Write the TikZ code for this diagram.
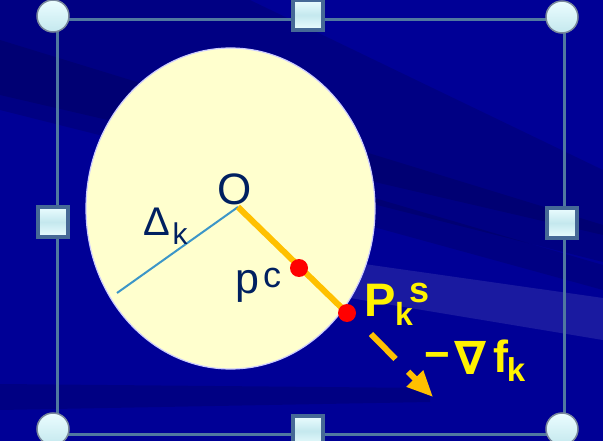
\documentclass[tikz,border=0pt]{standalone}
\usepackage{fontspec}
\setmainfont{Liberation Sans}
\newfontfamily\djv{DejaVu Sans}
\usetikzlibrary{arrows.meta}
\definecolor{bgblue}{RGB}{0,0,150}
\definecolor{ellfill}{RGB}{255,255,206}
\definecolor{navy}{RGB}{0,32,96}
\definecolor{rayblue}{RGB}{60,150,200}
\definecolor{gold}{RGB}{255,192,0}
\definecolor{selline}{RGB}{80,120,160}
\definecolor{hdlfill}{RGB}{235,253,255}
\definecolor{hdlband}{RGB}{196,232,238}
\definecolor{hdledge}{RGB}{120,135,155}
\definecolor{sqedge}{RGB}{70,105,150}
\newcommand\fsz[1]{\fontsize{#1}{#1}\selectfont}
\begin{document}
\begin{tikzpicture}[x=1pt,y=-1pt,
  lbl/.style={inner sep=0pt, outer sep=0pt},
  navytxt/.style={lbl, text=navy},
  yeltxt/.style={lbl, text=yellow, font=\bfseries},
  cornerhandle/.style={circle, minimum size=32pt, inner sep=0pt, draw=hdledge, line width=1.5pt, top color=hdlfill, bottom color=hdlband},
  sidehandle/.style={rectangle, minimum size=30pt, inner sep=0pt, draw=sqedge, line width=3.5pt, top color=hdlfill, bottom color=hdlfill, middle color=hdlband},
  reddot/.style={circle, fill=red, minimum size=18pt, inner sep=0pt},
  bandfill/.style={fill=black, opacity=0.12},
  lightband/.style={fill=white, opacity=0.10}]
\useasboundingbox (0,0) rectangle (603,441);
\clip (0,0) rectangle (603,441);
% background
\fill[bgblue] (0,0) rectangle (603,441);
\fill[bandfill] (0,0) -- (250,0) -- (603,170) -- (603,235) -- (0,95) -- cycle;
\fill[bandfill] (0,40) -- (603,225) -- (603,262) -- (0,110) -- cycle;
\fill[bandfill] (330,185) -- (603,265) -- (603,290) -- (330,215) -- cycle;
\fill[lightband] (350,262) -- (603,298) -- (603,340) -- (350,298) -- cycle;
\fill[bandfill] (0,384) -- (430,388) -- (430,402) -- (0,410) -- cycle;
% selection frame
\draw[selline, line width=3pt] (57,20) rectangle (564,434);
% trust region
\draw[white!80!blue, line width=1.2pt, fill=ellfill] (230.5,208.5) ellipse [x radius=144.5, y radius=160.5];
% coordinates
\coordinate (orig) at (238,207);
\coordinate (rad) at (117,293);
\coordinate (pcpt) at (299,268);
\coordinate (pspt) at (347,313);
\coordinate (a1) at (371,334);
\coordinate (a2) at (433,397);
% rays
\draw[rayblue, line width=2pt] (orig) -- (rad);
\draw[gold, line width=6pt] (orig) -- (pspt);
\node[reddot] (pc) at (pcpt) {};
\node[reddot] (ps) at (pspt) {};
\draw[gold, line width=6pt, dash pattern=on 35pt off 18pt, -{Triangle[length=26pt,width=22pt]}] (a1) -- (a2);
% labels
\node[navytxt, font=\fsz{44}] (O) at (235,189) {O};
\node[navytxt, font=\fsz{40}] (Dl) at (157,222) {Δ};
\node[navytxt, font=\fsz{30}] (Dk) at (180,234) {k};
\node[navytxt, font=\fsz{43}] (p) at (247,286) {p};
\node[navytxt, font=\fsz{36}] (c) at (272,277.5) {c};
\node[yeltxt, font=\bfseries\fsz{47}] (P) at (380.5,300) {P};
\node[yeltxt, font=\bfseries\fsz{32}] (Pk) at (404,313.5) {k};
\node[yeltxt, font=\bfseries\fsz{36}] (Ps) at (420,292.5) {s};
\node[yeltxt, font=\bfseries\fsz{44}] (mn) at (437,360.5) {−};
\node[yeltxt, font=\djv\bfseries\fsz{46}] (nb) at (471,357.5) {∇};
\node[yeltxt, font=\bfseries\fsz{45}] (f) at (501,356.5) {f};
\node[yeltxt, font=\bfseries\fsz{33}] (fk) at (516,370) {k};
% handles
\node[cornerhandle] (h1) at (53,16) {};
\node[cornerhandle] (h2) at (562,17) {};
\node[cornerhandle] (h3) at (53,429) {};
\node[cornerhandle] (h4) at (562,429) {};
\node[sidehandle] (h5) at (308,15) {};
\node[sidehandle] (h6) at (308,431) {};
\node[sidehandle] (h7) at (53,222) {};
\node[sidehandle] (h8) at (562,223) {};
\end{tikzpicture}
\end{document}
